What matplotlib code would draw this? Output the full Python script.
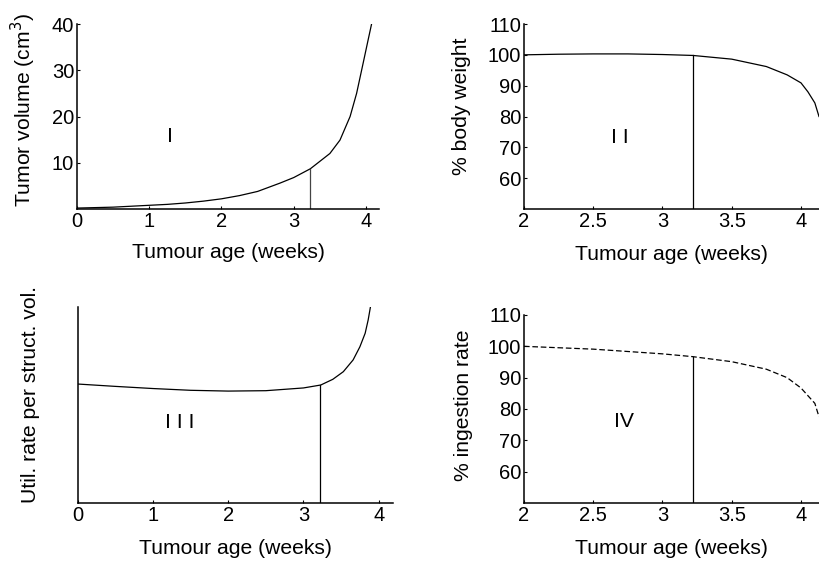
import matplotlib
matplotlib.use("Agg")
import matplotlib.pyplot as plt

plt.rcParams['font.family'] = ['Liberation Sans', 'DejaVu Sans']

# ---- data ----
cutoff_age = 3.22

vol_age = [0, 0.25, 0.5, 0.75, 1, 1.25, 1.5, 1.75, 2, 2.25, 2.5, 2.81, 3.0, 3.23,
           3.5, 3.64, 3.78, 3.87, 3.96, 4.03, 4.08]
vol_cm3 = [0.2, 0.3, 0.4, 0.6, 0.8, 1.0, 1.3, 1.7, 2.2, 2.9, 3.8, 5.6, 6.8, 8.7,
           12.0, 14.9, 20.0, 25.0, 31.5, 36.6, 40.2]
vol_at_cutoff = 8.7

bw_age = [2, 2.25, 2.5, 2.75, 3, 3.22, 3.5, 3.75, 3.9, 4.0, 4.05, 4.1, 4.13]
bw_pct = [100, 100.2, 100.3, 100.3, 100.1, 99.8, 98.6, 96.2, 93.5, 90.9, 88.0, 84.4, 80.0]
bw_at_cutoff = 99.8

util_age = [0, 0.5, 1, 1.5, 2, 2.5, 3, 3.23, 3.39, 3.53, 3.66, 3.75, 3.82, 3.86, 3.89]
util_rate = [0.607, 0.595, 0.584, 0.575, 0.571, 0.573, 0.587, 0.602, 0.631, 0.670,
             0.730, 0.797, 0.866, 0.934, 1.0]
util_at_cutoff = 0.602

ing_age = [2, 2.5, 3, 3.22, 3.5, 3.75, 3.9, 4.0, 4.1, 4.13]
ing_pct = [100, 99.1, 97.6, 96.7, 95.1, 92.7, 90.0, 86.7, 81.8, 77.5]
ing_at_cutoff = 96.7

ticks_full = [0, 1, 2, 3, 4]
ticks_late = [2, 2.5, 3, 3.5, 4]
tick_late_labels = ['2', '2.5', '3', '3.5', '4']
vol_yticks = [10, 20, 30, 40]
pct_yticks = [60, 70, 80, 90, 100, 110]

xlabel = 'Tumour age (weeks)'

W, H = 819, 561
fig = plt.figure(figsize=(W / 100, H / 100), dpi=100)

def ax_at(l, r, t, b):
    return fig.add_axes([l / W, 1 - b / H, (r - l) / W, (b - t) / H])

FS_T = 14.5
FS_L = 15.2

def style(ax):
    for s in ['top', 'right']:
        ax.spines[s].set_visible(False)
    for s in ['left', 'bottom']:
        ax.spines[s].set_linewidth(1.1)
    ax.tick_params(direction='in', length=2, width=0.8, labelsize=FS_T, pad=2)

lw = 0.9

# Panel I
ax1 = ax_at(77, 379, 24, 209)
style(ax1)
ax1.plot(vol_age, vol_cm3, color='black', lw=lw)
ax1.plot([cutoff_age, cutoff_age], [0, vol_at_cutoff], color='#444444', lw=lw)
ax1.set_xlim(0, 4.18)
ax1.set_ylim(0, 40)
ax1.set_xticks(ticks_full)
ax1.set_yticks(vol_yticks)
ax1.set_xlabel(xlabel, fontsize=FS_L, labelpad=9)
ax1.set_ylabel('Tumor volume (cm$^3$)', fontsize=FS_L)
ax1.yaxis.set_label_coords(-0.130, 0.535)
ax1.text(1.29, 15.6, 'I', fontsize=FS_L, ha='center', va='center')

# Panel II
ax2 = ax_at(524, 819, 24, 209)
style(ax2)
ax2.plot(bw_age, bw_pct, color='black', lw=lw)
ax2.plot([cutoff_age, cutoff_age], [50, bw_at_cutoff], color='black', lw=lw)
ax2.set_xlim(2, 4.13)
ax2.set_ylim(50, 110)
ax2.set_xticks(ticks_late)
ax2.set_xticklabels(tick_late_labels)
ax2.set_yticks(pct_yticks)
ax2.set_xlabel(xlabel, fontsize=FS_L, labelpad=10)
ax2.set_ylabel('% body weight', fontsize=FS_L)
ax2.yaxis.set_label_coords(-0.179, 0.557)
ax2.text(2.69, 73.3, 'I I', fontsize=FS_L, ha='center', va='center')

# Panel III
ax3 = ax_at(77.7, 393, 307, 503)
style(ax3)
ax3.plot(util_age, util_rate, color='black', lw=lw)
ax3.plot([cutoff_age, cutoff_age], [0, util_at_cutoff], color='black', lw=lw)
ax3.set_xlim(0, 4.19)
ax3.set_ylim(0, 1.0)
ax3.set_xticks(ticks_full)
ax3.set_yticks([])
ax3.set_xlabel(xlabel, fontsize=FS_L, labelpad=10)
ax3.set_ylabel('Util. rate per struct. vol.', fontsize=FS_L)
ax3.yaxis.set_label_coords(-0.119, 0.556)
ax3.text(1.36, 0.41, 'I I I', fontsize=FS_L, ha='center', va='center')

# Panel IV
ax4 = ax_at(524, 819, 315, 503)
style(ax4)
ax4.plot(ing_age, ing_pct, color='black', lw=lw, dashes=(4.5, 2.2))
ax4.plot([cutoff_age, cutoff_age], [50, ing_at_cutoff], color='black', lw=lw)
ax4.set_xlim(2, 4.13)
ax4.set_ylim(50, 110)
ax4.set_xticks(ticks_late)
ax4.set_xticklabels(tick_late_labels)
ax4.set_yticks(pct_yticks)
ax4.set_xlabel(xlabel, fontsize=FS_L, labelpad=10)
ax4.set_ylabel('% ingestion rate', fontsize=FS_L)
ax4.yaxis.set_label_coords(-0.174, 0.521)
ax4.text(2.72, 75.9, 'IV', fontsize=FS_L, ha='center', va='center')

fig.savefig('out.png', dpi=100)
